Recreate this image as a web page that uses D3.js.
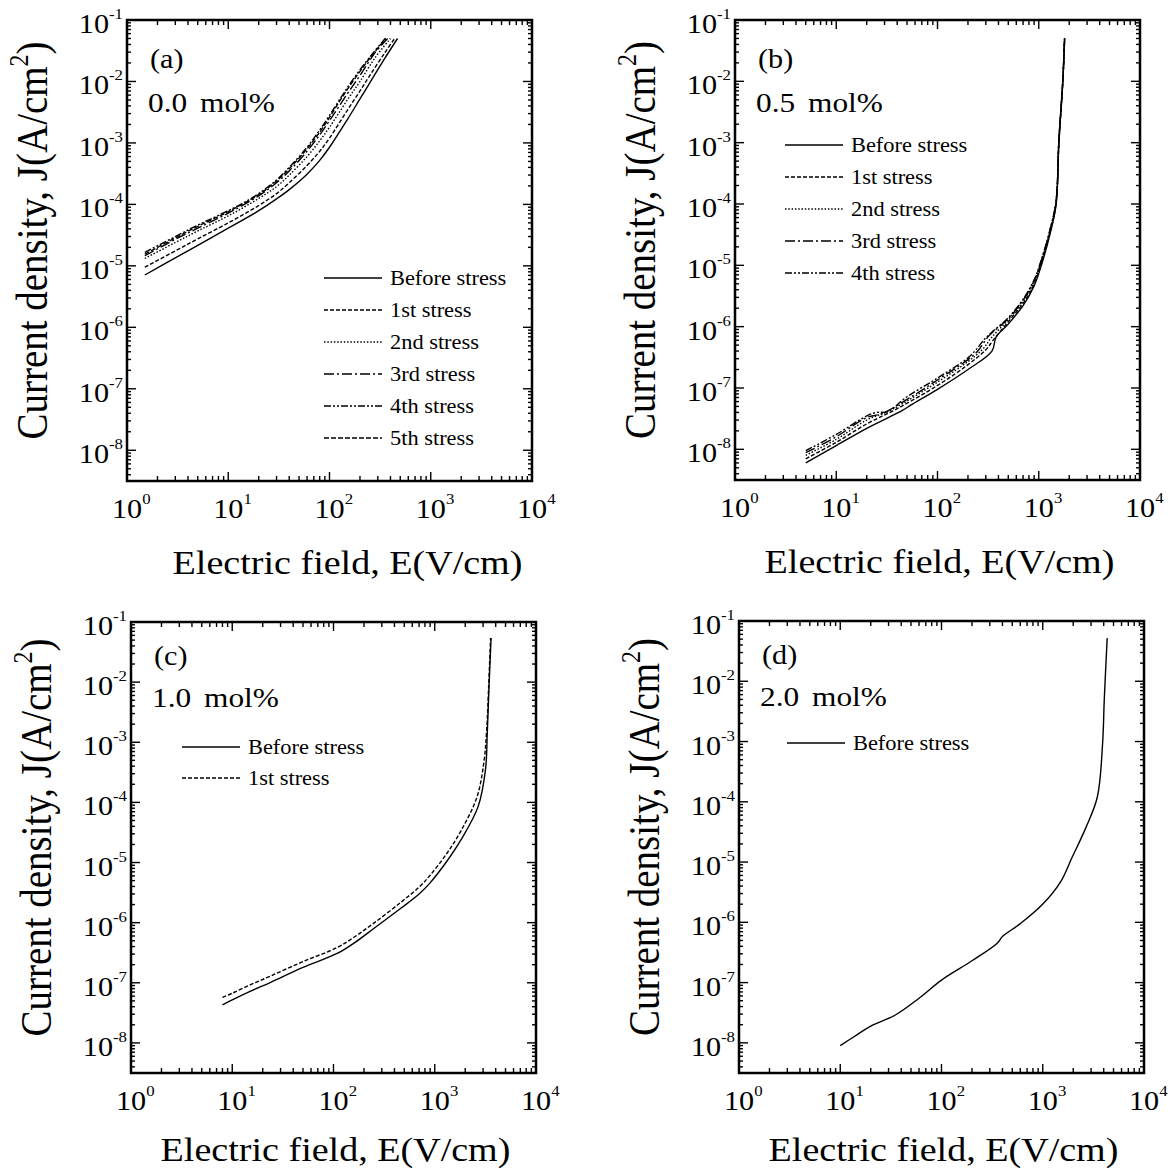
<!DOCTYPE html>
<html>
<head>
<meta charset="utf-8">
<script src="https://cdn.jsdelivr.net/npm/d3@7"></script>
<style>
  html, body { margin: 0; padding: 0; background: #fff; }
  svg { display: block; font-family: "Liberation Serif", "Times New Roman", serif; }
</style>
</head>
<body>
<svg id="chart" width="1170" height="1171"></svg>
<script>
// ---- data: [E (V/cm), J (A/cm^2)] ----
const seriesNames = ["Before stress", "1st stress", "2nd stress", "3rd stress", "4th stress", "5th stress"];
const panelTags = ["(a)", "(b)", "(c)", "(d)"];
const panelConc = ["0.0", "0.5", "1.0", "2.0"];
const xTickExp = [0, 1, 2, 3, 4];
const yTickExp = [-1, -2, -3, -4, -5, -6, -7, -8];
const xDomain = [1, 1e4];
const yDomain = [3.16e-9, 1e-1];

// (a) 0.0 mol%
const aBefore = [[1.5,7.1e-6],[3,1.35e-5],[5,2.16e-5],[10,4.1e-5],[20,7.9e-5],[30,1.23e-4],[40,1.74e-4],[60,3.1e-4],[80,5.2e-4],[100,8.5e-4],[150,2.4e-3],[200,5.2e-3],[250,9.5e-3],[350,2.35e-2],[470,5.0e-2]];
const a1st = [[1.5,9.5e-6],[3,1.75e-5],[5,2.75e-5],[10,5.0e-5],[20,9.6e-5],[30,1.5e-4],[40,2.25e-4],[60,4.3e-4],[80,7.3e-4],[100,1.2e-3],[150,3.4e-3],[200,7.0e-3],[250,1.25e-2],[350,2.9e-2],[440,5.0e-2]];
const a2nd = [[1.5,1.32e-5],[3,2.4e-5],[5,3.7e-5],[10,6.5e-5],[20,1.25e-4],[30,1.95e-4],[40,3.0e-4],[60,6.0e-4],[80,1.08e-3],[100,1.8e-3],[150,5.0e-3],[200,1.0e-2],[280,2.4e-2],[400,5.0e-2]];
const a3rd = [[1.5,1.46e-5],[3,2.7e-5],[5,4.1e-5],[10,7.2e-5],[20,1.38e-4],[30,2.25e-4],[40,3.5e-4],[60,7.3e-4],[80,1.35e-3],[100,2.3e-3],[150,6.3e-3],[200,1.25e-2],[280,2.9e-2],[375,5.0e-2]];
const a4th = [[1.5,1.66e-5],[3,3.0e-5],[5,4.6e-5],[10,7.9e-5],[14,1.05e-4],[20,1.5e-4],[30,2.5e-4],[40,4.0e-4],[60,8.5e-4],[80,1.62e-3],[100,2.8e-3],[130,5.5e-3],[170,1.07e-2],[250,2.5e-2],[355,5.0e-2]];
const a5th = [[1.5,1.55e-5],[3,2.85e-5],[5,4.4e-5],[10,7.6e-5],[20,1.45e-4],[30,2.4e-4],[40,3.8e-4],[60,8.0e-4],[80,1.5e-3],[100,2.6e-3],[130,5.2e-3],[170,1.0e-2],[250,2.4e-2],[360,5.0e-2]];

// (b) 0.5 mol%
const bBefore = [[5,6.0e-9],[10,1.15e-8],[20,2.2e-8],[45,4.3e-8],[55,5.3e-8],[100,9.5e-8],[200,2.0e-7],[345,4.0e-7],[380,6.8e-7],[500,1.1e-6],[700,2.2e-6],[900,4.6e-6],[1080,1.1e-5],[1290,3.2e-5],[1480,9.5e-5],[1580,9.5e-4],[1730,1.0e-2],[1800,5.0e-2]];
const b1st = [[5,7.0e-9],[10,1.3e-8],[20,2.6e-8],[40,4.6e-8],[100,1.1e-7],[200,2.4e-7],[300,4.2e-7],[360,6.2e-7],[500,1.2e-6],[700,2.4e-6],[900,4.9e-6],[1080,1.2e-5],[1290,3.4e-5],[1480,1.0e-4],[1580,1.0e-3],[1730,1.0e-2],[1800,5.0e-2]];
const b2nd = [[5,8.0e-9],[10,1.45e-8],[20,3.0e-8],[35,4.4e-8],[100,1.25e-7],[200,2.7e-7],[280,4.3e-7],[340,6.6e-7],[500,1.3e-6],[700,2.6e-6],[900,5.3e-6],[1080,1.28e-5],[1290,3.6e-5],[1480,1.05e-4],[1580,1.05e-3],[1730,1.05e-2],[1800,5.0e-2]];
const b3rd = [[5,8.8e-9],[10,1.6e-8],[20,3.3e-8],[28,3.8e-8],[50,6.5e-8],[100,1.35e-7],[200,2.9e-7],[250,4.0e-7],[320,7.0e-7],[500,1.35e-6],[700,2.7e-6],[900,5.6e-6],[1080,1.32e-5],[1290,3.7e-5],[1480,1.08e-4],[1580,1.08e-3],[1730,1.08e-2],[1800,5.0e-2]];
const b4th = [[5,9.5e-9],[10,1.75e-8],[20,3.5e-8],[25,4.0e-8],[32,4.1e-8],[50,7.2e-8],[100,1.45e-7],[200,3.1e-7],[240,4.2e-7],[290,6.2e-7],[350,8.3e-7],[500,1.4e-6],[700,2.8e-6],[900,5.8e-6],[1080,1.35e-5],[1290,3.8e-5],[1480,1.1e-4],[1580,1.1e-3],[1730,1.1e-2],[1800,5.0e-2]];

// (c) 1.0 mol%
const cBefore = [[8,4.3e-8],[10,5.2e-8],[15,7.2e-8],[24,1.02e-7],[50,1.8e-7],[110,3.1e-7],[166,4.8e-7],[250,8.0e-7],[466,1.75e-6],[700,3.0e-6],[890,4.5e-6],[1290,1.0e-5],[1820,2.4e-5],[2680,8.5e-5],[3170,3.5e-4],[3300,1.4e-3],[3450,1.0e-2],[3600,5.4e-2]];
const c1st = [[8,5.7e-8],[10,6.7e-8],[15,9.2e-8],[24,1.3e-7],[50,2.25e-7],[110,3.9e-7],[166,6.0e-7],[250,9.8e-7],[466,2.2e-6],[700,3.9e-6],[890,6.0e-6],[1290,1.35e-5],[1820,3.4e-5],[2600,1.2e-4],[3050,4.5e-4],[3250,1.5e-3],[3420,1.0e-2],[3560,5.4e-2]];

// (d) 2.0 mol%
const dBefore = [[10,9.0e-9],[15,1.4e-8],[20,1.9e-8],[35,2.9e-8],[60,5.5e-8],[100,1.1e-7],[200,2.3e-7],[355,4.5e-7],[400,5.8e-7],[600,9.5e-7],[985,1.95e-6],[1500,4.7e-6],[1950,1.2e-5],[2680,3.8e-5],[3460,1.2e-4],[3900,9.3e-4],[4050,4.9e-3],[4330,5.2e-2]];

// line style per series index (solid, dash, dot, dash-dot, dash-dot-dot, short dash)
const dashStyles = [null, "4,2", "1.5,1.8", "10,3,2,3", "7,2,2,2,2,2", "5,2"];

// ---- layout ----
const SX = 1.12; // the scan is a bit wider than tall, stretch text to match
const panels = [
  { left: 127, right: 532, top: 20, bottom: 481, tagDy: 48, concDy: 92, legX: 324, legY: 278, legStep: 32, titleDx: 18, titleDy: 93,
    series: [aBefore, a1st, a2nd, a3rd, a4th, a5th] },
  { left: 735, right: 1140, top: 20, bottom: 480, tagDy: 48, concDy: 92, legX: 785, legY: 145, legStep: 32, titleDx: 2, titleDy: 93,
    series: [bBefore, b1st, b2nd, b3rd, b4th] },
  { left: 131, right: 536, top: 622, bottom: 1073, tagDy: 43, concDy: 85, legX: 182, legY: 747, legStep: 31, titleDx: 2, titleDy: 88,
    series: [cBefore, c1st] },
  { left: 739, right: 1144, top: 621, bottom: 1073, tagDy: 43, concDy: 85, legX: 787, legY: 743, legStep: 31, titleDx: 2, titleDy: 88,
    series: [dBefore] },
];

const svg = d3.select("#chart");

function stretchedText(g, x, y, size, anchor) {
  return g.append("text")
    .attr("transform", `translate(${x},${y}) scale(${SX},1)`)
    .attr("font-size", size)
    .attr("text-anchor", anchor || "start")
    .attr("fill", "#000");
}

function drawPanel(p, idx) {
  const g = svg.append("g");
  const x = d3.scaleLog().domain(xDomain).range([p.left, p.right]);
  const y = d3.scaleLog().domain(yDomain).range([p.bottom, p.top]);

  // minor tick positions (2..9 per decade)
  const xMinor = [], yMinor = [];
  for (let e = 0; e < 4; e++) for (let m = 2; m <= 9; m++) xMinor.push(m * Math.pow(10, e));
  for (let e = -9; e < -1; e++) for (let m = 2; m <= 9; m++) {
    const v = m * Math.pow(10, e);
    if (v > yDomain[0] && v < yDomain[1]) yMinor.push(v);
  }
  const xMajor = xTickExp.map((e) => Math.pow(10, e));
  const yMajor = yTickExp.map((e) => Math.pow(10, e));

  const ticks = g.append("g").attr("stroke", "#000").attr("stroke-width", 1.4);
  const addX = (vals, len) => vals.forEach((v) => {
    const px = x(v);
    ticks.append("line").attr("x1", px).attr("x2", px).attr("y1", p.bottom).attr("y2", p.bottom - len);
    ticks.append("line").attr("x1", px).attr("x2", px).attr("y1", p.top).attr("y2", p.top + len);
  });
  const addY = (vals, len) => vals.forEach((v) => {
    const py = y(v);
    ticks.append("line").attr("y1", py).attr("y2", py).attr("x1", p.left).attr("x2", p.left + len);
    ticks.append("line").attr("y1", py).attr("y2", py).attr("x1", p.right).attr("x2", p.right - len);
  });
  addX(xMinor, 5); addX(xMajor, 9);
  addY(yMinor, 4); addY(yMajor, 9);

  // frame
  g.append("rect")
    .attr("x", p.left).attr("y", p.top)
    .attr("width", p.right - p.left).attr("height", p.bottom - p.top)
    .attr("fill", "none").attr("stroke", "#000").attr("stroke-width", 2.5);

  // x tick labels
  xTickExp.forEach((e) => {
    const t = stretchedText(g, x(Math.pow(10, e)) - 15, p.bottom + 37, 27, "start");
    t.append("tspan").text("10");
    t.append("tspan").attr("font-size", 15).attr("dy", -14).text(e);
  });
  // y tick labels
  yTickExp.forEach((e) => {
    const t = stretchedText(g, p.left - 4, y(Math.pow(10, e)) + 13, 27, "end");
    t.append("tspan").text("10");
    t.append("tspan").attr("font-size", 15).attr("dy", -14).text(e);
  });

  // axis titles
  stretchedText(g, (p.left + p.right) / 2 + p.titleDx, p.bottom + p.titleDy, 34, "middle")
    .text("Electric field, E(V/cm)");
  const yc = (p.top + p.bottom) / 2 - 10;
  const yt = g.append("text")
    .attr("transform", `translate(${p.left - 80},${yc}) scale(${SX},1) rotate(-90)`)
    .attr("font-size", 39).attr("text-anchor", "middle");
  yt.append("tspan").text("Current density, J(A/cm");
  yt.append("tspan").attr("font-size", 24).attr("dy", -17).text("2");
  yt.append("tspan").attr("dy", 17).text(")");

  // panel tag and concentration
  stretchedText(g, p.left + 23, p.top + p.tagDy, 27).text(panelTags[idx]);
  stretchedText(g, p.left + 21, p.top + p.concDy, 28).text(panelConc[idx]);
  stretchedText(g, p.left + 73, p.top + p.concDy, 28).text("mol%");

  // curves
  const line = d3.line()
    .x((d) => x(d[0]))
    .y((d) => y(d[1]))
    .curve(d3.curveCatmullRom.alpha(0.5));
  p.series.forEach((s, i) => {
    g.append("path")
      .datum(s)
      .attr("d", line)
      .attr("fill", "none")
      .attr("stroke", "#000")
      .attr("stroke-width", 1.4)
      .attr("stroke-dasharray", dashStyles[i]);
  });

  // legend
  p.series.forEach((s, i) => {
    const ly = p.legY + i * p.legStep;
    g.append("line")
      .attr("x1", p.legX).attr("x2", p.legX + 58)
      .attr("y1", ly).attr("y2", ly)
      .attr("stroke", "#000").attr("stroke-width", 1.4)
      .attr("stroke-dasharray", dashStyles[i]);
    stretchedText(g, p.legX + 66, ly + 7, 20).text(seriesNames[i]);
  });
}

panels.forEach(drawPanel);
</script>
</body>
</html>
